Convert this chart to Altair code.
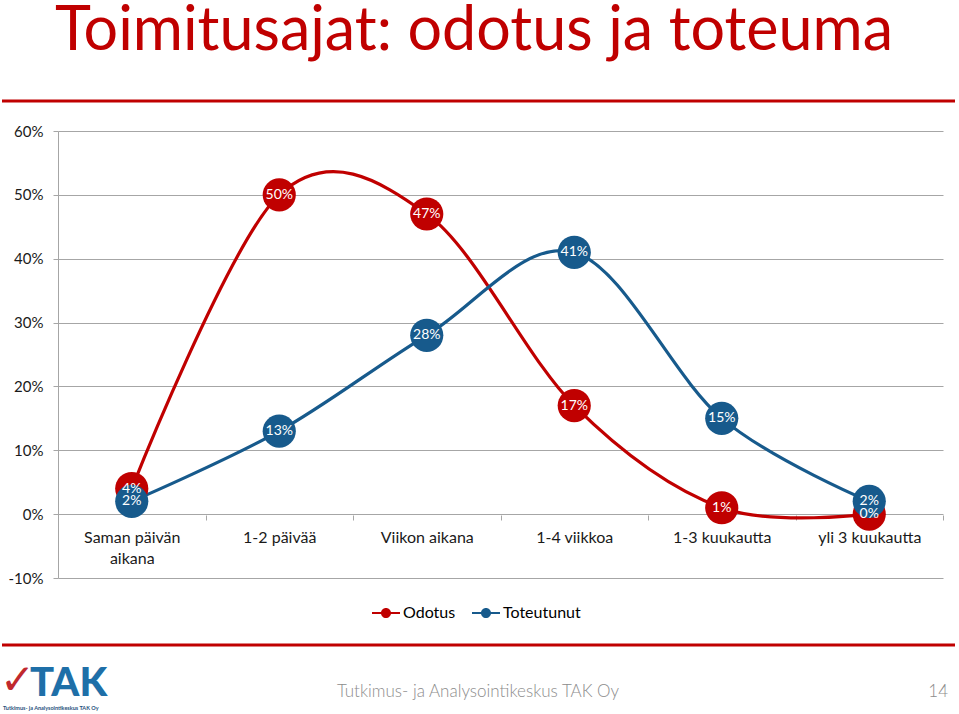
import altair as alt
import pandas as pd

categories = ["Saman päivän aikana", "1-2 päivää", "Viikon aikana",
              "1-4 viikkoa", "1-3 kuukautta", "yli 3 kuukautta"]
series_names = ["Odotus", "Toteutunut"]
odotus = [4, 50, 47, 17, 1, 0]
toteutunut = [2, 13, 28, 41, 15, 2]
y_ticks = [-10, 0, 10, 20, 30, 40, 50, 60]

title_text = "Toimitusajat: odotus ja toteuma"
footer_text = "Tutkimus- ja Analysointikeskus TAK Oy"
page_no = "14"

RED = "#C00000"
BLUE = "#175A8C"
FONT = "Lato"

rows = []
for name, vals in zip(series_names, [odotus, toteutunut]):
    for c, v in zip(categories, vals):
        rows.append({"series": name, "cat": c, "value": v, "label": f"{v}%"})
df = pd.DataFrame(rows)

W, H = 885, 447
PL, PT = 58, 131

x_enc = alt.X(
    "cat:N", sort=categories, title=None, bandPosition=0.5,
    scale=alt.Scale(type="band", domain=categories, paddingInner=0, paddingOuter=0),
    axis=alt.Axis(
        orient="bottom", offset=-63, domain=False, ticks=True, tickBand="extent",
        tickColor="#A6A6A6", tickSize=5, labelPadding=9, labelFontSize=16,
        labelFont=FONT, labelColor="#1a1a1a", labelAngle=0, labelOverlap=False,
        labelBound=False, labelLineHeight=21, grid=False,
        labelExpr="datum.label == 'Saman päivän aikana' ? ['Saman päivän', 'aikana'] : datum.label",
    ),
)
y_enc = alt.Y(
    "value:Q", title=None,
    scale=alt.Scale(domain=[-10, 60], nice=False, zero=False),
    axis=alt.Axis(
        values=y_ticks, labelExpr="datum.value + '%'", grid=True,
        gridColor="#A6A6A6", gridWidth=1, domainColor="#A6A6A6", tickColor="#A6A6A6",
        tickSize=5, labelPadding=10, labelFontSize=15, labelFont=FONT,
        labelColor="#1a1a1a",
    ),
)

base = alt.Chart(df)

lines = base.mark_line(interpolate="cardinal", strokeWidth=3.2).encode(
    x=x_enc, y=y_enc,
    stroke=alt.Stroke("series:N", scale=alt.Scale(domain=series_names, range=[RED, BLUE]), legend=None),
    detail="series:N",
)

legend_path = ("M-1,-0.075 L1,-0.075 L1,0.075 L-1,0.075 Z "
               "M0.36,0 A0.36,0.36 0 1 1 -0.36,0 A0.36,0.36 0 1 1 0.36,0 Z")

points = base.mark_circle(size=1100, opacity=1).encode(
    x=x_enc, y=y_enc,
    fill=alt.Fill(
        "series:N", scale=alt.Scale(domain=series_names, range=[RED, BLUE]),
        legend=alt.Legend(
            title=None, orient="none", legendX=314, legendY=468, direction="horizontal",
            symbolType=legend_path, symbolSize=784, symbolStrokeWidth=0,
            labelFontSize=16, labelFont=FONT, labelColor="#000000", labelOffset=3,
            columnPadding=16, symbolOpacity=1,
        ),
    ),
    order=alt.Order("series:N"),
)

labels = base.mark_text(color="white", fontSize=14, font=FONT).encode(
    x=x_enc, y=y_enc, text="label:N",
)

deco_title = alt.Chart(pd.DataFrame({"t": [title_text]})).mark_text(
    align="left", baseline="alphabetic", fontSize=61, font=FONT, color=RED
).encode(x=alt.value(55 - PL), y=alt.value(50 - PT), text="t:N")

rule_top = alt.Chart(pd.DataFrame({"t": [0]})).mark_rule(color=RED, strokeWidth=3).encode(
    x=alt.value(2 - PL), x2=alt.value(955 - PL), y=alt.value(101 - PT)
)
rule_bot = alt.Chart(pd.DataFrame({"t": [0]})).mark_rule(color=RED, strokeWidth=3).encode(
    x=alt.value(2 - PL), x2=alt.value(955 - PL), y=alt.value(645 - PT)
)

footer = alt.Chart(pd.DataFrame({"t": [footer_text]})).mark_text(
    align="center", baseline="middle", fontSize=17, font=FONT, fontWeight=300, color="#8C8C8C"
).encode(x=alt.value(478 - PL), y=alt.value(692 - PT), text="t:N")

page = alt.Chart(pd.DataFrame({"t": [page_no]})).mark_text(
    align="right", baseline="middle", fontSize=17, font=FONT, fontWeight=300, color="#8C8C8C"
).encode(x=alt.value(948 - PL), y=alt.value(692 - PT), text="t:N")

logo_tak = alt.Chart(pd.DataFrame({"t": ["TAK"]})).mark_text(
    align="left", baseline="alphabetic", fontSize=40, font=FONT, fontWeight=900,
    color="#1E6FA8"
).encode(x=alt.value(30 - PL), y=alt.value(696 - PT), text="t:N")

logo_check = alt.Chart(pd.DataFrame({"t": ["✓"]})).mark_text(
    align="left", baseline="alphabetic", fontSize=42, font="DejaVu Sans", color="#C0282D"
).encode(x=alt.value(0 - PL), y=alt.value(694 - PT), text="t:N")

logo_small = alt.Chart(pd.DataFrame({"t": [footer_text]})).mark_text(
    align="left", baseline="middle", fontSize=5.5, font=FONT, fontWeight="bold", color="#1E4F7A"
).encode(x=alt.value(3 - PL), y=alt.value(708 - PT), text="t:N")

chart = alt.layer(
    lines, points, labels, deco_title, rule_top, rule_bot, footer, page,
    logo_tak, logo_check, logo_small
).resolve_scale(fill="independent").properties(
    width=W, height=H,
    autosize=alt.AutoSizeParams(type="none"),
    padding={"left": PL, "top": PT, "right": 959 - PL - W, "bottom": 714 - PT - H},
    background="white",
).configure_view(stroke=None)

chart.save("out.html", embed_options={"renderer": "svg", "actions": False})
